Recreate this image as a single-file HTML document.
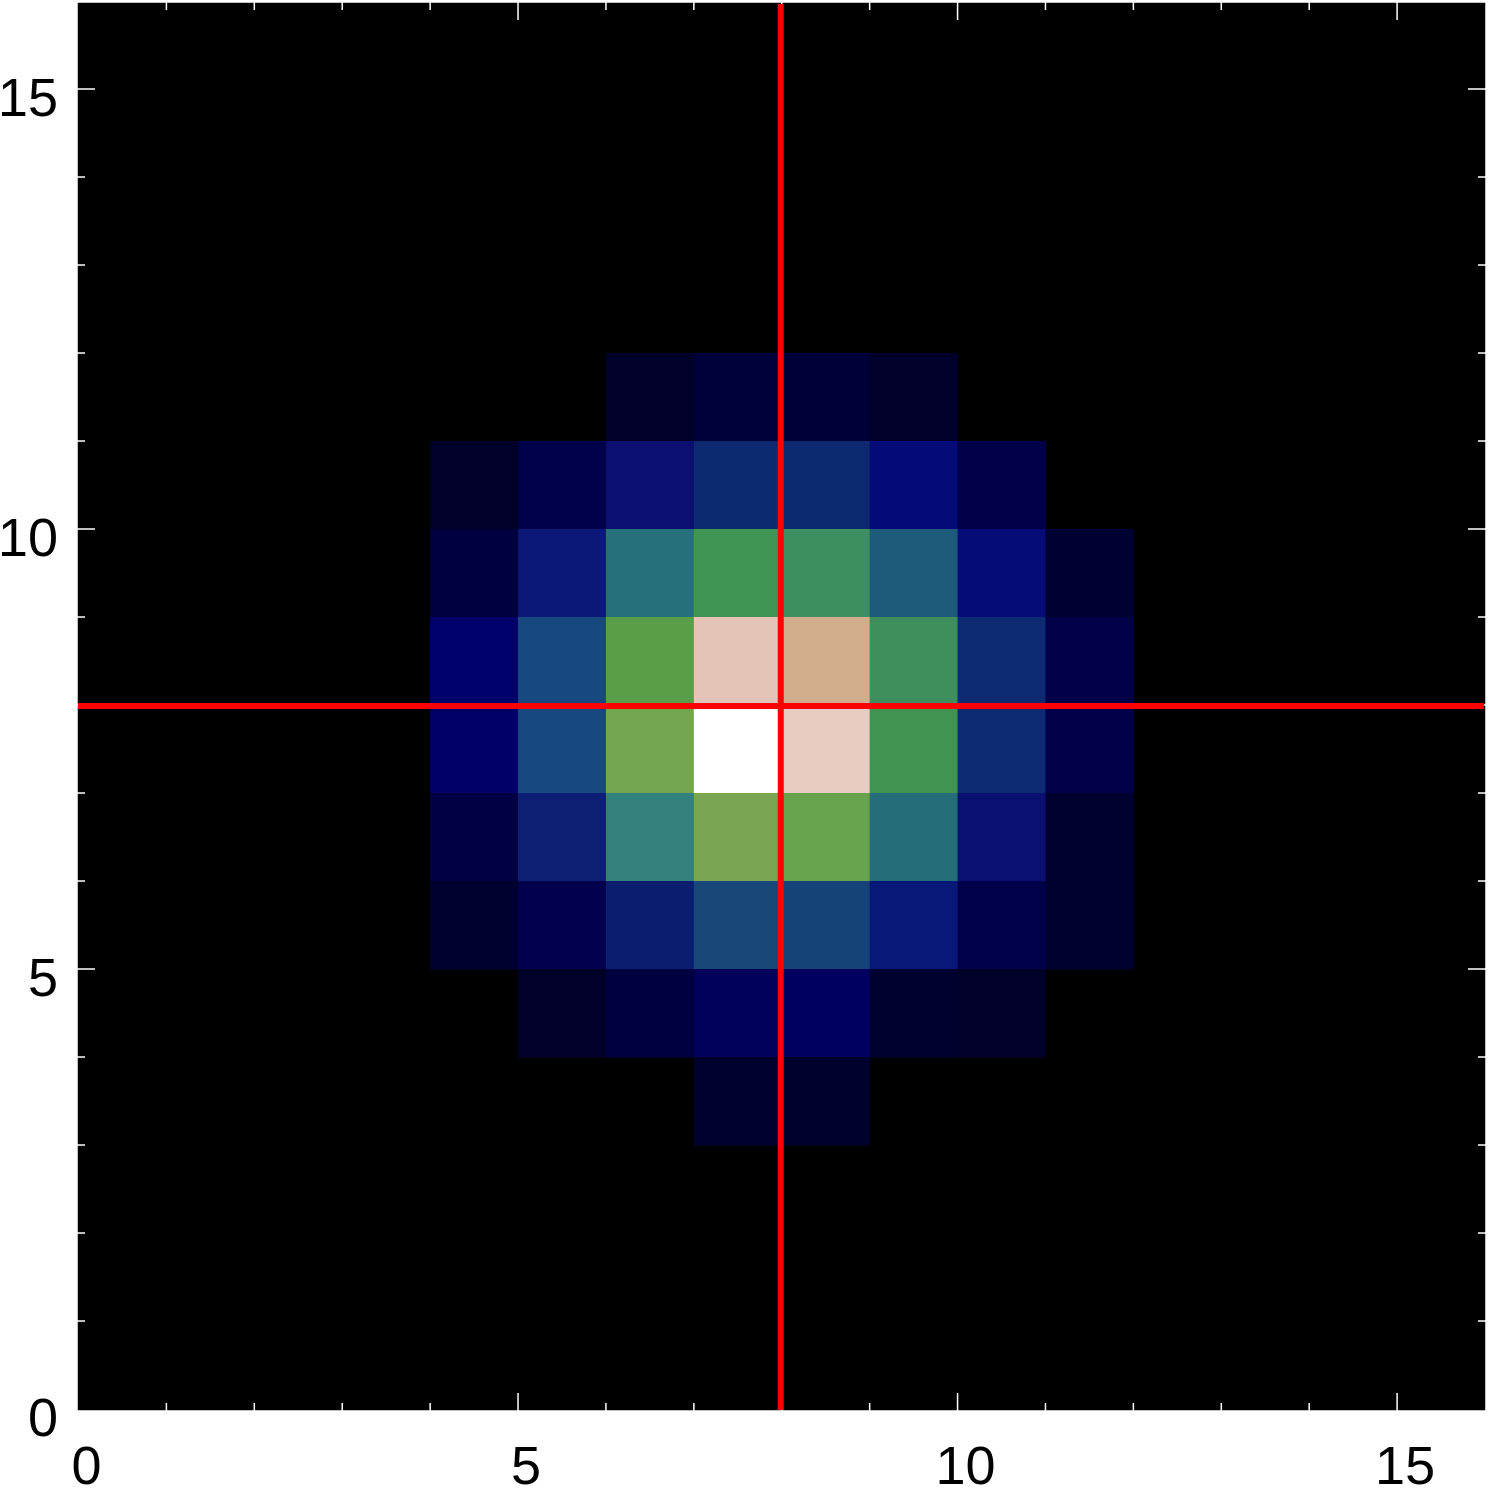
<!DOCTYPE html>
<html><head><meta charset="utf-8"><style>
html,body{margin:0;padding:0;background:#fff;}
svg{display:block;font-family:"Liberation Sans",sans-serif;}
</style></head><body>
<svg id="chart" width="1488" height="1488" viewBox="0 0 1488 1488">
<rect x="77" y="2" width="1409" height="1409" fill="#000"/>
<g id="cells"></g>
<g id="ticks"></g>
<g id="labels"></g>
<g id="cross"></g>
</svg>
<script>
const xTicks=[0,5,10,15];
const yTicks=[0,5,10,15];
const crossX=8, crossY=8;
const rowY=[11,10,9,8,7,6,5,4,3];
const rowStart=[6,4,4,4,4,4,4,5,7];
const rowColors=[
["#000028","#00003a","#000038","#00002a"],
["#000028","#00004a","#0a0f70","#0d2a70","#0d2a70","#040a78","#000048"],
["#000040","#0b1878","#26707c","#409555","#3d8f62","#1e5a7a","#050c78","#000032"],
["#00006a","#174880","#5a9e4a","#e3c4b6","#d2ad8c","#3f8f5c","#0e2a72","#000048"],
["#000068","#174880","#74a650","#ffffff","#e8cbc2","#409350","#0e2a72","#000048"],
["#000044","#0c1f74","#32817c","#7aa552","#67a24c","#266d7a","#0a0f72","#000030"],
["#000030","#00004c","#0a1e70","#184878","#16427a","#081878","#00004a","#000030"],
["#000028","#000040","#00005a","#000060","#000030","#000028"],
["#00002e","#00002c"]
];
const NS="http://www.w3.org/2000/svg";
const x0=78.5,x1=1485,y0=1409,y1=1;
const sx=v=>x0+(x1-x0)*v/16;
const sy=v=>y0+(y1-y0)*v/16;
function mk(tag,attrs,parent){const e=document.createElementNS(NS,tag);for(const k in attrs)e.setAttribute(k,attrs[k]);parent.appendChild(e);return e;}
const cells=document.getElementById('cells');
rowY.forEach((y,r)=>{rowColors[r].forEach((c,i)=>{const x=rowStart[r]+i;
const el=mk('rect',{x:sx(x),y:sy(y+1),width:sx(x+1)-sx(x)+0.5,height:sy(y)-sy(y+1)+0.5,fill:c},cells);


});});
const tk=document.getElementById('ticks');
const fr=mk('rect',{x:77,y:2,width:1409,height:1409,fill:'none',stroke:'#fff','stroke-width':1.5},tk);


for(let v=1;v<16;v++){
 const L=(v%5===0)?18:8;
 mk('line',{x1:sx(v),x2:sx(v),y1:1411,y2:1411-L,stroke:'#fff','stroke-width':1.5},tk);
 mk('line',{x1:sx(v),x2:sx(v),y1:2,y2:2+L,stroke:'#fff','stroke-width':1.5},tk);
 mk('line',{y1:sy(v),y2:sy(v),x1:77,x2:77+L,stroke:'#fff','stroke-width':1.5},tk);
 mk('line',{y1:sy(v),y2:sy(v),x1:1486,x2:1486-L,stroke:'#fff','stroke-width':1.5},tk);
}
const lb=document.getElementById('labels');
xTicks.forEach(v=>{const t=mk('text',{x:sx(v)+8,y:1484,'font-size':54,'text-anchor':'middle',fill:'#000'},lb);t.textContent=v;
});
yTicks.forEach(v=>{const t=mk('text',{x:58,y:sy(v)+27,'font-size':54,'text-anchor':'end',fill:'#000'},lb);t.textContent=v;
});
const cr=document.getElementById('cross');
const vl=mk('line',{x1:sx(crossX)-1,x2:sx(crossX)-1,y1:4,y2:1410,stroke:'#f00','stroke-width':6},cr);

const hl=mk('line',{x1:78,x2:1484,y1:sy(crossY)+1,y2:sy(crossY)+1,stroke:'#f00','stroke-width':6},cr);

</script>
</body></html>
